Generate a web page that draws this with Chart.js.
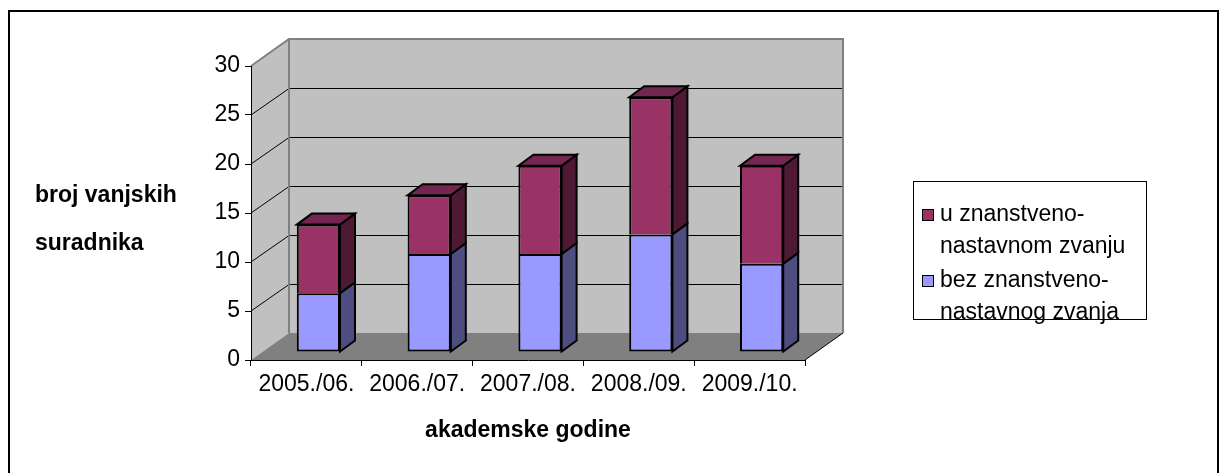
<!DOCTYPE html>
<html>
<head>
<meta charset="utf-8">
<script src="https://cdn.jsdelivr.net/npm/chart.js@4.4.1/dist/chart.umd.min.js"></script>
<style>
html, body { margin:0; padding:0; background:#fff; overflow:hidden; }
#wrap { position:absolute; left:0; top:0; width:1225px; height:473px; overflow:hidden; }
#frame { position:absolute; left:8px; top:10px; width:1207px; height:600px; border:2px solid #000; }
#graph { position:absolute; left:0; top:0; }
</style>
</head>
<body>
<div id="wrap">
	<div id="frame"></div>
	<canvas id="graph" width="1225" height="473"></canvas>
</div>
<script>
const years = ['2005./06.', '2006./07.', '2007./08.', '2008./09.', '2009./10.']
const withoutRank = [6, 10, 10, 12, 9]
const withRank = [7, 6, 9, 14, 10]
const labelWithout = ['bez znanstveno-', 'nastavnog zvanja']
const labelWith = ['u znanstveno-', 'nastavnom zvanju']
const yTitle = ['broj vanjskih', 'suradnika']
const xTitle = 'akademske godine'
const yMax = 30
const yStep = 5

const FONT = "'Liberation Sans', Arial, sans-serif"

// depth of the box (walls) and of the bars
const WALL_DX = 38, WALL_DY = -27
const SHIFT_X = 12, SHIFT_Y = -8
const BAR_DX = 15, BAR_DY = -11

const sideColors = ['#4d4d80', '#4d1933']
const topColors = ['#6b6bb3', '#73264f']

function poly(ctx, pts){
	ctx.beginPath()
	ctx.moveTo(pts[0][0], pts[0][1])
	for(let i = 1; i < pts.length; i++) ctx.lineTo(pts[i][0], pts[i][1])
	ctx.closePath()
}

const scene3d = {
	id:'scene3d',
	beforeDraw(chart){
		const { ctx, chartArea:a, scales:{ y } } = chart
		const L = a.left, R = a.right, T = a.top, B = a.bottom
		ctx.save()
		// left wall
		ctx.fillStyle = '#c0c0c0'
		poly(ctx, [[L, T], [L + WALL_DX, T + WALL_DY], [L + WALL_DX, B + WALL_DY], [L, B]])
		ctx.fill()
		// back wall
		ctx.fillRect(L + WALL_DX, T + WALL_DY, R - L, B - T)
		// floor
		ctx.fillStyle = '#808080'
		poly(ctx, [[L, B], [L + WALL_DX, B + WALL_DY], [R + WALL_DX, B + WALL_DY], [R, B]])
		ctx.fill()

		// grid lines on the back and left walls
		ctx.strokeStyle = '#000'
		ctx.lineWidth = 1
		for(const t of y.ticks){
			if(t.value <= 0 || t.value >= yMax) continue
			const yf = y.getPixelForValue(t.value)
			const yb = Math.round(yf + WALL_DY) + 0.5
			ctx.beginPath()
			ctx.moveTo(L, yf)
			ctx.lineTo(L + WALL_DX, yb)
			ctx.lineTo(R + WALL_DX, yb)
			ctx.stroke()
		}

		// wall frame
		ctx.strokeStyle = '#808080'
		ctx.lineWidth = 2
		ctx.beginPath()
		ctx.moveTo(L, T)
		ctx.lineTo(L + WALL_DX, T + WALL_DY)
		ctx.lineTo(R + WALL_DX, T + WALL_DY)
		ctx.lineTo(R + WALL_DX, B + WALL_DY)
		ctx.moveTo(L + WALL_DX, T + WALL_DY)
		ctx.lineTo(L + WALL_DX, B + WALL_DY)
		ctx.stroke()

		// floor right edge
		ctx.strokeStyle = '#000'
		ctx.lineWidth = 1
		ctx.beginPath()
		ctx.moveTo(R, B)
		ctx.lineTo(R + WALL_DX, B + WALL_DY)
		ctx.stroke()
		ctx.restore()
	},
	beforeDatasetsDraw(chart){
		chart.ctx.save()
		chart.ctx.translate(SHIFT_X, SHIFT_Y)
	},
	afterDatasetsDraw(chart){
		const ctx = chart.ctx
		const last = chart.data.datasets.length - 1
		ctx.lineWidth = 2
		ctx.strokeStyle = '#000'
		ctx.lineJoin = 'miter'
		chart.data.datasets.forEach((ds, i) => {
			const meta = chart.getDatasetMeta(i)
			meta.data.forEach(el => {
				const { x, y, base, width } = el.getProps(['x', 'y', 'base', 'width'], true)
				const left = x - width / 2, right = x + width / 2
				const top = Math.min(y, base), bot = Math.max(y, base)
				ctx.fillStyle = sideColors[i]
				poly(ctx, [[right, top], [right + BAR_DX, top + BAR_DY], [right + BAR_DX, bot + BAR_DY], [right, bot]])
				ctx.fill()
				ctx.stroke()
				if(i === last){
					ctx.fillStyle = topColors[i]
					poly(ctx, [[left, top], [left + BAR_DX, top + BAR_DY], [right + BAR_DX, top + BAR_DY], [right, top]])
					ctx.fill()
					ctx.stroke()
				}
			})
		})
		ctx.restore()
	},
	afterDraw(chart){
		const { ctx, chartArea:a } = chart
		ctx.save()
		ctx.fillStyle = '#000'
		ctx.textBaseline = 'middle'

		// axis titles
		ctx.font = `bold 23px ${FONT}`
		ctx.textAlign = 'left'
		ctx.fillText(yTitle[0], 35, 196)
		ctx.fillText(yTitle[1], 35, 244)
		ctx.textAlign = 'center'
		ctx.fillText(xTitle, (a.left + a.right) / 2, 431)

		// legend, top series first
		ctx.fillStyle = '#fff'
		ctx.fillRect(913, 181, 233, 138)
		ctx.strokeStyle = '#000'
		ctx.lineWidth = 1
		ctx.strokeRect(913.5, 181.5, 233, 138)
		ctx.font = `23px ${FONT}`
		ctx.textAlign = 'left'
		const items = chart.data.datasets.slice().reverse()
		items.forEach((ds, k) => {
			const y0 = 215 + k * 66
			ctx.fillStyle = ds.backgroundColor
			ctx.fillRect(922, y0 - 6, 11, 11)
			ctx.strokeRect(922.5, y0 - 5.5, 11, 11)
			ctx.fillStyle = '#000'
			ds.label.forEach((line, j) => ctx.fillText(line, 940, y0 + j * 32))
		})
		ctx.restore()
	}
}

new Chart(document.getElementById('graph'), {
	type:'bar',
	data:{
		labels:years,
		datasets:[
			{
				label:labelWithout,
				data:withoutRank,
				backgroundColor:'#9999ff',
				borderColor:'#000',
				borderWidth:2,
				borderSkipped:false,
				clip:false
			},
			{
				label:labelWith,
				data:withRank,
				backgroundColor:'#993366',
				borderColor:'#000',
				borderWidth:2,
				borderSkipped:'start',
				clip:false
			}
		]
	},
	options:{
		responsive:false,
		animation:false,
		events:[],
		layout:{ padding:{ left:200, right:420, top:66, bottom:20 } },
		datasets:{ bar:{ categoryPercentage:1, barPercentage:0.39 } },
		plugins:{
			legend:{ display:false },
			tooltip:{ enabled:false }
		},
		scales:{
			x:{
				stacked:true,
				afterFit: scale => { scale.height = 93 },
				grid:{ drawOnChartArea:false, drawTicks:true, tickLength:6, color:'#000', offset:true },
				border:{ display:true, color:'#000', width:1 },
				ticks:{ color:'#000', font:{ family:FONT, size:23 }, padding:5, maxRotation:0, autoSkip:false }
			},
			y:{
				stacked:true,
				min:0,
				max:yMax,
				afterFit: scale => { scale.width = 51 },
				grid:{ drawOnChartArea:false, drawTicks:true, tickLength:6, color:'#000' },
				border:{ display:true, color:'#000', width:1 },
				ticks:{ stepSize:yStep, color:'#000', font:{ family:FONT, size:23 }, padding:5 }
			}
		}
	},
	plugins:[scene3d]
})
</script>
</body>
</html>
